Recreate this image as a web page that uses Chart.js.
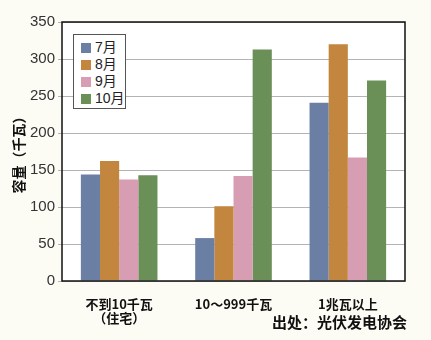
<!DOCTYPE html>
<html>
<head>
<meta charset="utf-8">
<script src="https://cdn.jsdelivr.net/npm/chart.js@4"></script>
<style>
  body { margin: 0; background: #fdfcf4; }
  #wrap { position: relative; width: 431px; height: 340px; }
  #legend {
    position: absolute; left: 73px; top: 34px; width: 53px; height: 75px;
    border: 1px solid #555; background: #fff; padding: 4px 0 0 7px; box-sizing: border-box;
    font: 14px "Liberation Sans", "Noto Sans CJK SC", sans-serif; color: #222;
  }
  #legend div { height: 17px; line-height: 17px; white-space: nowrap; }
  #legend span { display: inline-block; width: 10px; height: 10px; margin-right: 4px; vertical-align: -1px; }
  #source {
    position: absolute; left: 272px; top: 311px;
    font: bold 15px "Noto Sans CJK SC", sans-serif; color: #111;
  }
</style>
</head>
<body>
<div id="wrap">
  <canvas id="chart" width="431" height="340"></canvas>
  <div id="legend"></div>
  <div id="source">出处：光伏发电协会</div>
</div>
<script>
let categories = [["不到10千瓦", "（住宅）"], "10～999千瓦", "1兆瓦以上"];
let seriesNames = ["7月", "8月", "9月", "10月"];
let julValues = [144, 58, 241];
let augValues = [162, 101, 320];
let sepValues = [137, 142, 167];
let octValues = [143, 313, 271];
let colors = ["#6b7fa5", "#c2863f", "#d69db3", "#6a8f57"];

let allValues = [julValues, augValues, sepValues, octValues];

let legend = document.getElementById("legend");
seriesNames.forEach((name, i) => {
    legend.innerHTML += `<div><span style="background:${colors[i]}"></span>${name}</div>`;
});

// white plot area + black frame round it
let plotFrame = {
    id: "plotFrame",
    beforeDraw(chart) {
        let a = chart.chartArea;
        chart.ctx.save();
        chart.ctx.fillStyle = "#fff";
        chart.ctx.fillRect(a.left, a.top, a.right - a.left, a.bottom - a.top);
        chart.ctx.restore();
    },
    afterDraw(chart) {
        let a = chart.chartArea;
        let ctx = chart.ctx;
        ctx.save();
        ctx.strokeStyle = "#111";
        ctx.lineWidth = 1.5;
        ctx.strokeRect(a.left, a.top, a.right - a.left, a.bottom - a.top);
        ctx.restore();
    }
};

new Chart(document.getElementById("chart"), {
    type: "bar",
    data: {
        labels: categories,
        datasets: seriesNames.map((name, i) => ({
            label: name,
            data: allValues[i],
            backgroundColor: colors[i],
            barPercentage: 1,
            categoryPercentage: 0.67
        }))
    },
    options: {
        responsive: false,
        animation: false,
        layout: { padding: { left: 10, top: 22, right: 26, bottom: 0 } },
        plugins: { legend: { display: false }, tooltip: { enabled: false } },
        scales: {
            x: {
                grid: { display: false, drawTicks: false },
                border: { display: false },
                ticks: {
                    color: "#111",
                    padding: 16,
                    maxRotation: 0,
                    font: { family: "'Noto Sans CJK SC'", size: 13, weight: "bold", lineHeight: 1.1 }
                },
                afterFit(scale) { scale.height = 59; }
            },
            y: {
                min: 0,
                max: 350,
                ticks: {
                    stepSize: 50,
                    color: "#333",
                    padding: 3,
                    font: { family: "'Liberation Sans'", size: 15 }
                },
                grid: { color: "#b4b4b4", lineWidth: 1, tickLength: 4 },
                border: { display: false },
                title: {
                    display: true,
                    text: "容量（千瓦）",
                    color: "#111",
                    padding: 0,
                    font: { family: "'Noto Sans CJK SC'", size: 14, weight: "bold" }
                },
                afterFit(scale) { scale.width = 52; }
            }
        }
    },
    plugins: [plotFrame]
});
</script>
</body>
</html>
